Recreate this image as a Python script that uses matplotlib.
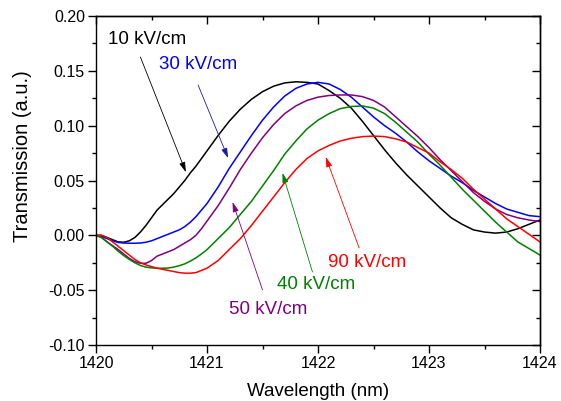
import matplotlib
matplotlib.use('Agg')
import matplotlib.pyplot as plt
from matplotlib.ticker import MultipleLocator, FormatStrFormatter

plt.rcParams['font.family'] = ['Liberation Sans', 'DejaVu Sans']
plt.rcParams['axes.unicode_minus'] = False

# wavelength samples (nm): fine steps over the first nm, then 0.1 nm
wavelength = [1420.00, 1420.05, 1420.10, 1420.15, 1420.20, 1420.25, 1420.30, 1420.35,
              1420.40, 1420.45, 1420.50, 1420.55, 1420.60, 1420.65, 1420.70, 1420.75,
              1420.80, 1420.85, 1420.90, 1420.95, 1421.00,
              1421.1, 1421.2, 1421.3, 1421.4, 1421.5, 1421.6, 1421.7, 1421.8, 1421.9, 1422.0,
              1422.1, 1422.2, 1422.3, 1422.4, 1422.5, 1422.6, 1422.7, 1422.8, 1422.9, 1423.0,
              1423.1, 1423.2, 1423.3, 1423.4, 1423.5, 1423.6, 1423.7, 1423.8, 1423.9, 1424.0]

t_10 = [0.000, 0.000, -0.002, -0.004, -0.006, -0.0063, -0.005, -0.002,
        0.003, 0.009, 0.016, 0.023, 0.028, 0.033, 0.038, 0.044,
        0.050, 0.057, 0.063, 0.070, 0.077,
        0.091, 0.104, 0.115, 0.124, 0.131, 0.136, 0.139, 0.140, 0.1395, 0.138,
        0.132, 0.125, 0.116, 0.104, 0.091, 0.078, 0.066, 0.055, 0.045, 0.035,
        0.025, 0.016, 0.010, 0.005, 0.003, 0.002, 0.003, 0.006, 0.010, 0.014]

t_30 = [0.000, -0.001, -0.003, -0.005, -0.0065, -0.007, -0.0072, -0.0072,
        -0.007, -0.0063, -0.005, -0.003, -0.001, 0.001, 0.003, 0.005,
        0.008, 0.012, 0.017, 0.023, 0.029,
        0.044, 0.061, 0.076, 0.091, 0.105, 0.117, 0.127, 0.134, 0.138, 0.1395,
        0.138, 0.133, 0.126, 0.117, 0.108, 0.100, 0.093, 0.085, 0.076, 0.068,
        0.061, 0.054, 0.048, 0.041, 0.035, 0.029, 0.024, 0.021, 0.018, 0.017]

t_50 = [0.000, -0.002, -0.006, -0.0095, -0.013, -0.017, -0.021, -0.024,
        -0.0255, -0.0255, -0.023, -0.019, -0.017, -0.015, -0.013, -0.010,
        -0.007, -0.004, 0.000, 0.006, 0.013,
        0.027, 0.043, 0.060, 0.075, 0.089, 0.101, 0.111, 0.118, 0.123, 0.126,
        0.1275, 0.128, 0.128, 0.1265, 0.123, 0.117, 0.108, 0.099, 0.090, 0.080,
        0.069, 0.059, 0.049, 0.039, 0.031, 0.024, 0.019, 0.016, 0.014, 0.0125]

t_40 = [0.000, -0.002, -0.006, -0.010, -0.0145, -0.0185, -0.022, -0.025,
        -0.0275, -0.029, -0.0297, -0.030, -0.030, -0.0298, -0.029, -0.0277,
        -0.026, -0.0235, -0.0206, -0.017, -0.013,
        -0.003, 0.007, 0.019, 0.031, 0.045, 0.059, 0.074, 0.086, 0.097, 0.105,
        0.111, 0.1155, 0.1175, 0.118, 0.116, 0.111, 0.103, 0.094, 0.085, 0.074,
        0.064, 0.053, 0.042, 0.032, 0.022, 0.012, 0.003, -0.006, -0.012, -0.018]

t_90 = [0.000, 0.000, -0.002, -0.006, -0.010, -0.014, -0.018, -0.022,
        -0.025, -0.027, -0.0285, -0.030, -0.031, -0.032, -0.033, -0.034,
        -0.0345, -0.0345, -0.034, -0.032, -0.030,
        -0.023, -0.013, -0.003, 0.009, 0.022, 0.035, 0.048, 0.060, 0.070, 0.077,
        0.082, 0.086, 0.0885, 0.090, 0.0905, 0.090, 0.088, 0.085, 0.080, 0.075,
        0.067, 0.060, 0.052, 0.042, 0.033, 0.024, 0.015, 0.008, 0.001, -0.006]

fields = ['10 kV/cm', '30 kV/cm', '50 kV/cm', '40 kV/cm', '90 kV/cm']
series = [t_10, t_30, t_50, t_40, t_90]
colors = ['black', 'blue', '#800080', '#008000', 'red']
arrow_colors = ['black', '#1c1c9a', '#800080', '#008000', 'red']

# label anchor (left, centre) and arrow tail -> head, in data units
label_pos = [(1420.108, 0.179), (1420.568, 0.156), (1421.20, -0.068),
             (1421.63, -0.045), (1422.09, -0.025)]
arrow_tail = [(1420.40, 0.1626), (1420.92, 0.137), (1421.50, -0.0497),
              (1421.95, -0.0334), (1422.37, -0.0114)]
arrow_head = [(1420.81, 0.0576), (1421.19, 0.0704), (1421.23, 0.0304),
              (1421.68, 0.0569), (1422.07, 0.0714)]

fig = plt.figure(figsize=(5.61, 4.01), dpi=100)
ax = fig.add_axes([96 / 561, 1 - 345 / 401, 444 / 561, 329 / 401])

for y, c in zip(series, colors):
    ax.plot(wavelength, y, color=c, lw=1.1)

for name, c, ac, lp, tail, head in zip(fields, colors, arrow_colors,
                                       label_pos, arrow_tail, arrow_head):
    ax.annotate('', xy=head, xytext=tail,
                arrowprops=dict(arrowstyle='-|>,head_length=0.6,head_width=0.18',
                                color=ac, lw=0.6, shrinkA=0, shrinkB=0))
    ax.text(lp[0], lp[1], name, color=c, fontsize=13.5, ha='left', va='center')

ax.set_xlim(1420, 1424)
ax.set_ylim(-0.10, 0.20)
ax.xaxis.set_major_locator(MultipleLocator(1))
ax.xaxis.set_minor_locator(MultipleLocator(0.5))
ax.yaxis.set_major_locator(MultipleLocator(0.05))
ax.yaxis.set_minor_locator(MultipleLocator(0.025))
ax.yaxis.set_major_formatter(FormatStrFormatter('%.2f'))
ax.xaxis.set_major_formatter(FormatStrFormatter('%d'))

ax.tick_params(which='both', direction='out', top=False, right=False,
               labelsize=11.5, width=1.0)
ax.tick_params(which='major', length=5.5)
ax.tick_params(which='minor', length=2.8)
ax.tick_params(axis='y', pad=2.5)
ax.tick_params(axis='x', pad=2.5)

# mirrored inward ticks on top and right
top = ax.secondary_xaxis('top')
top.xaxis.set_major_locator(MultipleLocator(1))
top.xaxis.set_minor_locator(MultipleLocator(0.5))
top.tick_params(which='both', direction='in', labeltop=False, width=1.0)
top.tick_params(which='major', length=5.5)
top.tick_params(which='minor', length=2.8)
right = ax.secondary_yaxis('right')
right.yaxis.set_major_locator(MultipleLocator(0.05))
right.yaxis.set_minor_locator(MultipleLocator(0.025))
right.tick_params(which='both', direction='in', labelright=False, width=1.0)
right.tick_params(which='major', length=5.5)
right.tick_params(which='minor', length=2.8)

for sp in list(ax.spines.values()) + [top.spines['top'], right.spines['right']]:
    sp.set_linewidth(1.0)

ax.set_xlabel('Wavelength (nm)', fontsize=13.5)
ax.set_ylabel('Transmission (a.u.)', fontsize=14.5)
ax.xaxis.set_label_coords(0.5, -0.114)
ax.yaxis.set_label_coords(-0.144, 0.574)

fig.savefig('out.png', dpi=100)
